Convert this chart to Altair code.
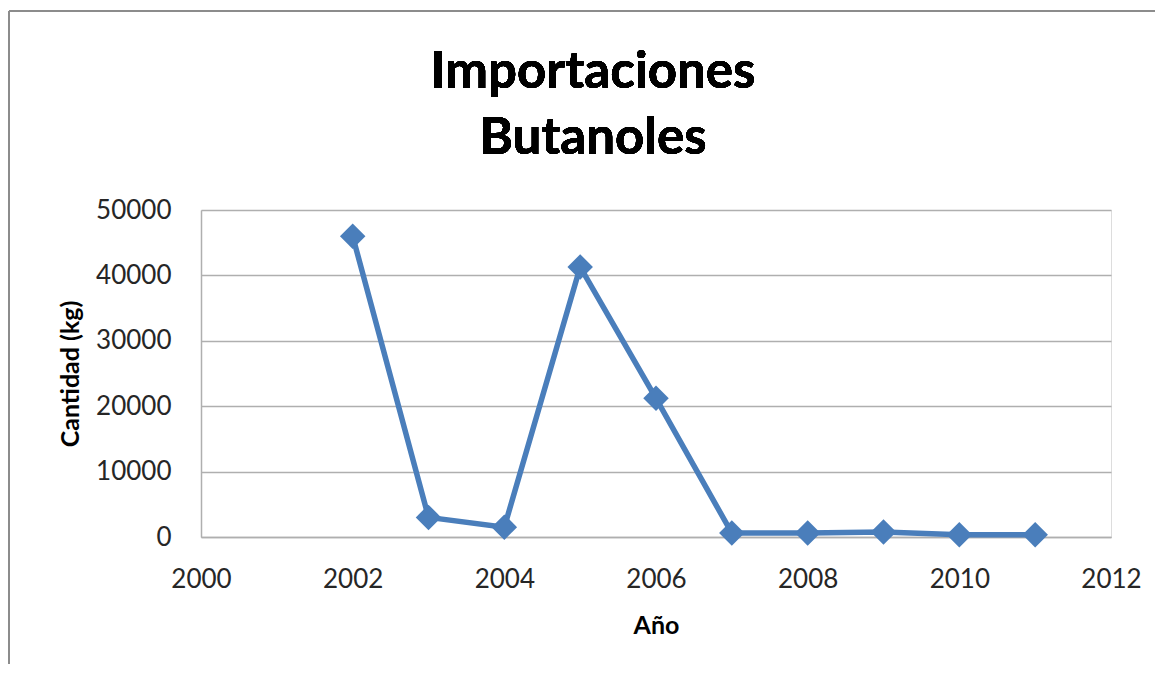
import altair as alt
import pandas as pd

years = [2002, 2003, 2004, 2005, 2006, 2007, 2008, 2009, 2010, 2011]
cantidad = [46000, 3000, 1500, 41300, 21200, 600, 600, 750, 350, 350]
x_ticks = [2000, 2002, 2004, 2006, 2008, 2010, 2012]
y_ticks = [0, 10000, 20000, 30000, 40000, 50000]
title_lines = ["Importaciones", "Butanoles"]

df = pd.DataFrame({"Año": years, "Cantidad": cantidad})

FONT = "Lato"
BLUE = "#4A7EBB"

x_enc = alt.X(
    "Año:Q",
    scale=alt.Scale(domain=[2000, 2012], nice=False, zero=False),
    axis=alt.Axis(
        title="Año", values=x_ticks, format="d", grid=False, ticks=False, tickSize=0,
        domainColor="#AFAFAF", domainWidth=1.5, labelFlush=False,
        labelFont=FONT, labelFontSize=26, labelColor="#262626", labelPadding=29,
        titleFont=FONT, titleFontSize=25, titleFontWeight="bold", titleColor="#000000",
        titleBaseline="alphabetic", titleY=96, titleX=455,
    ),
)
y_enc = alt.Y(
    "Cantidad:Q",
    scale=alt.Scale(domain=[0, 50000], nice=False),
    axis=alt.Axis(
        title="Cantidad (kg)", values=y_ticks, format="d", grid=True, ticks=False, tickSize=0,
        gridColor="#AFAFAF", gridWidth=1.5, labelFlush=False,
        domainColor="#AFAFAF", domainWidth=1.5,
        labelFont=FONT, labelFontSize=26, labelColor="#262626", labelPadding=30,
        titleFont=FONT, titleFontSize=25, titleFontWeight="bold", titleColor="#000000",
        titleBaseline="middle", titleX=-131, titleY=163.5, titleAngle=-90,
    ),
)

line = alt.Chart(df).mark_line(color=BLUE, strokeWidth=5.5).encode(x=x_enc, y=y_enc)
pts = alt.Chart(df).mark_point(
    shape="diamond", filled=True, size=650, color=BLUE, opacity=1
).encode(x="Año:Q", y="Cantidad:Q")

frame_left = alt.Chart(df).mark_rule(color="#8C8C8C", strokeWidth=2).encode(
    x=alt.value(-192), y=alt.value(-199), y2=alt.value(460)
)
frame_top = alt.Chart(df).mark_rule(color="#8C8C8C", strokeWidth=2).encode(
    x=alt.value(-192), x2=alt.value(960), y=alt.value(-199)
)

title1 = alt.Chart(df).mark_text(
    font=FONT, fontSize=51, fontWeight="bold", color="#000000",
    align="center", baseline="alphabetic",
).encode(x=alt.value(392), y=alt.value(-122), text=alt.value(title_lines[0]))
title2 = alt.Chart(df).mark_text(
    font=FONT, fontSize=51, fontWeight="bold", color="#000000",
    align="center", baseline="alphabetic",
).encode(x=alt.value(392), y=alt.value(-56), text=alt.value(title_lines[1]))

chart = (
    alt.layer(frame_left, frame_top, line, pts, title1, title2)
    .properties(
        width=910,
        height=327,
        autosize=alt.AutoSizeParams(type="none"),
        padding={"left": 193, "top": 202, "right": 44, "bottom": 127},
    )
    .configure_view(stroke=None)
    .configure(background="white")
)

chart.save("out.html", embed_options={"renderer": "svg", "actions": False})
